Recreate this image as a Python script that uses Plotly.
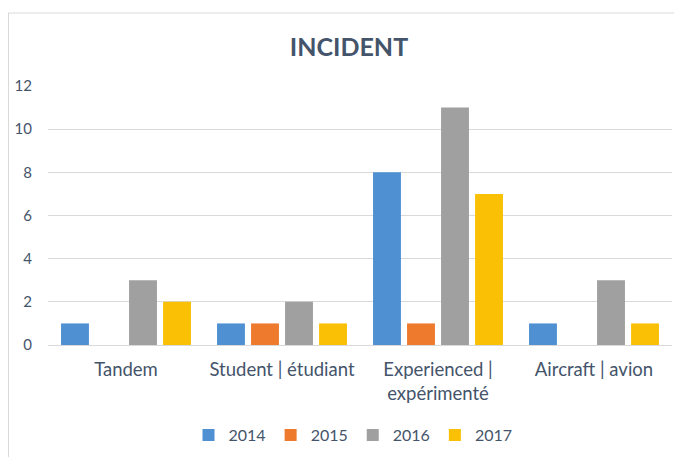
import plotly.graph_objects as go

categories = ["Tandem", "Student | étudiant", "Experienced |<br>expérimenté", "Aircraft | avion"]
years = ["2014", "2015", "2016", "2017"]
v2014 = [1, 1, 8, 1]
v2015 = [0, 1, 1, 0]
v2016 = [3, 2, 11, 3]
v2017 = [2, 1, 7, 1]
y_ticks = [0, 2, 4, 6, 8, 10, 12]

series = [v2014, v2015, v2016, v2017]
colors = ["#4F90D3", "#EE7A2E", "#A0A0A0", "#F9C005"]

FONT = "Lato, 'Open Sans', sans-serif"
TXT = "#44546A"

# page is offset by the 8px body margin; layout compensates
OFF = 8
L, R, T, B = 48 - OFF, 682 - 672 + OFF, 86 - OFF, 457 - 345 + OFF
PW, PH = 682 - L - R, 457 - T - B

fig = go.Figure()
for name, vals, col in zip(years, series, colors):
    fig.add_trace(go.Bar(
        x=categories, y=[v if v else None for v in vals], name=name,
        marker=dict(color=col, line=dict(width=0)),
    ))

fig.update_layout(
    width=682, height=457,
    margin=dict(l=L, r=R, t=T, b=B, autoexpand=False),
    paper_bgcolor="white", plot_bgcolor="white",
    barmode="group", bargap=0.128, bargroupgap=0.18,
    font=dict(family=FONT, color=TXT),
    title=dict(text="<b>INCIDENT</b>", x=(349 - OFF) / 682, xanchor="center",
               y=1 - (47 - OFF) / 457, yanchor="middle",
               font=dict(size=25, color=TXT, family=FONT)),
    legend=dict(orientation="h", x=(353 - OFF - L) / PW, xanchor="center",
                y=-(435 - 345) / PH, yanchor="middle",
                font=dict(size=16, color=TXT), itemwidth=30, traceorder="normal"),
    xaxis=dict(showgrid=False, showline=True, linecolor="#D9D9D9", linewidth=1,
               tickfont=dict(size=18.5, color=TXT), ticks="", ticklabelstandoff=8,
               automargin=False),
    yaxis=dict(range=[0, 12], tickvals=y_ticks, showgrid=True, gridcolor="#D9D9D9",
               gridwidth=1, zeroline=False, showline=False, automargin=False,
               tickfont=dict(size=15, color=TXT), ticklabelstandoff=15),
    shapes=[dict(type="rect", xref="paper", yref="paper",
                 x0=(0.5 - L) / PW, x1=(720 - L) / PW,
                 y0=-(480 - 345) / PH, y1=(345 - 13) / PH,
                 line=dict(color="#D9D9D9", width=1), layer="below")],
)

fig.write_html("out.html")
